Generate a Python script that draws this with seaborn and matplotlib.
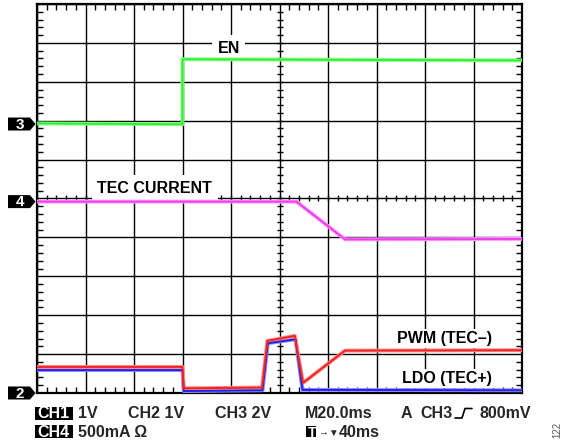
import numpy as np
import matplotlib
matplotlib.use('Agg')
import matplotlib.pyplot as plt
import matplotlib.transforms as mtransforms
from matplotlib.patches import Polygon, Rectangle
from matplotlib.lines import Line2D
import seaborn as sns


# Scope capture: time in ms (M20.0ms -> 20 ms/div), level in screen divisions
en_t = [0, 60, 60, 200]
en_v = [6.93, 6.91, 8.58, 8.55]

tec_t = [0, 107, 127, 200]
tec_v = [4.92, 4.92, 3.95, 3.96]

pwm_t = [0, 60, 60.5, 92.8, 95, 106.3, 109.7, 127, 200]
pwm_v = [0.67, 0.67, 0.12, 0.14, 1.34, 1.47, 0.26, 1.09, 1.10]

ldo_t = [0, 60, 60.5, 93, 95.2, 106.6, 109.5, 200]
ldo_v = [0.59, 0.59, 0.05, 0.07, 1.28, 1.38, 0.08, 0.07]

marker_names = ['3', '4', '2']
marker_levels = [6.915, 4.92, 0.0]

label_names = ['EN', 'TEC CURRENT', 'PWM (TEC–)', 'LDO (TEC+)']
label_t = [79, 48.5, 168, 169]
label_v = [8.75, 5.14, 1.29, 0.25]

W, H = 561, 446
FONT = ['Liberation Sans', 'DejaVu Sans']

sns.set_theme(style='white')
plt.rcParams['font.family'] = FONT

fig = plt.figure(figsize=(W / 100, H / 100), dpi=100)
ax = fig.add_axes([37 / W, 53 / H, 485 / W, 389 / H])
ax.set_xlim(0, 200)
ax.set_ylim(0, 10)

# Graticule: 10 x 10 divisions, 5 minor ticks per division
ax.set_xticks(np.arange(0, 201, 20))
ax.set_yticks(np.arange(0, 11, 1))
ax.set_xticks(np.arange(0, 201, 4), minor=True)
ax.set_yticks(np.arange(0, 10.01, 0.2), minor=True)
ax.grid(True, which='major', color='black', lw=1.0)
ax.tick_params(which='major', length=0, labelbottom=False, labelleft=False)
ax.tick_params(which='minor', direction='in', length=4.5, width=1.0,
               color='black', top=True, right=True, bottom=True, left=True)
for s in ax.spines.values():
    s.set_color('black')
    s.set_linewidth(1.6)
ax.set_axisbelow(True)

# center-line ticks
cx = np.arange(4, 200, 4)
ax.plot(cx, np.full(len(cx), 5.0), ls='none', marker='|', ms=5, mew=1.0,
        color='black', zorder=1.5)
cy = np.arange(0.2, 10, 0.2)
ax.plot(np.full(len(cy), 100.0), cy, ls='none', marker='_', ms=5, mew=1.0,
        color='black', zorder=1.5)

# Traces (light halo + core)
traces = [
    (en_t, en_v, '#8cff8c', '#33ee33'),
    (tec_t, tec_v, '#ff9cff', '#f03cf0'),
    (ldo_t, ldo_v, '#8c8cff', '#2424e0'),
    (pwm_t, pwm_v, '#ff8c8c', '#f02424'),
]
for t, v, light, core in traces:
    sns.lineplot(x=t, y=v, estimator=None, sort=False, color=light,
                 lw=2.8, ax=ax, zorder=4)
    sns.lineplot(x=t, y=v, estimator=None, sort=False, color=core,
                 lw=1.4, ax=ax, zorder=4.1)

for name, t, v in zip(label_names, label_t, label_v):
    pad = 4 if name in ('EN', 'TEC CURRENT') else 1.5
    ax.text(t, v, name, ha='center', va='baseline', fontsize=11.5,
            fontweight='bold', color='black', zorder=3,
            bbox=dict(facecolor='white', edgecolor='none', pad=pad))

# Channel markers on the left edge
for name, lvl in zip(marker_names, marker_levels):
    tr = fig.dpi_scale_trans + mtransforms.ScaledTranslation(
        0, lvl, ax.get_yaxis_transform())
    verts = np.array([(-29, -6.5), (-7, -6.5), (-1.5, 0), (-7, 6.5),
                      (-29, 6.5)]) / 100
    ax.add_patch(Polygon(verts, closed=True, transform=tr, facecolor='black',
                         edgecolor='none', clip_on=False, zorder=6))
    ax.text(-0.175, -0.005, name, transform=tr, ha='center', va='center',
            color='white', fontsize=11, fontweight='bold', clip_on=False,
            zorder=7)


# Readout text under the screen
def ftext(px, py, s, size=11.5, **kw):
    fig.text(px / W, 1 - py / H, s, ha='left', va='baseline', fontsize=size,
             fontweight='bold', **kw)


def fbox(x0, y0, x1, y1):
    fig.add_artist(Rectangle((x0 / W, 1 - y1 / H), (x1 - x0) / W,
                             (y1 - y0) / H, transform=fig.transFigure,
                             facecolor='black', edgecolor='none'))


row1, row2 = 418.5, 437
fbox(35, 406.5, 73, 419.5)
ftext(37, row1, 'CH1', color='white')
ftext(78, row1, '1V')
ftext(128, row1, 'CH2 1V')
ftext(215, row1, 'CH3 2V')
ftext(305, row1, 'M20.0ms')
ftext(401, row1, 'A')
ftext(420, row1, 'CH3')
ftext(480, row1, '800mV')
fig.add_artist(Line2D(np.array([455, 462, 465, 472]) / W,
                      1 - np.array([418, 418, 408.5, 408.5]) / H,
                      transform=fig.transFigure, color='black', lw=1.2))

fbox(35, 424.5, 73, 437.5)
ftext(37, row2, 'CH4', color='white')
ftext(78, row2, '500mA Ω')
fbox(306, 426, 316, 437)
ftext(307.5, row2, 'T', size=10, color='white')
ftext(318, row2 - 1.5, '→', size=7)
ftext(328, row2 - 1, '▼', size=7)
ftext(339, row2, '40ms')

fig.text(557 / W, 1 - 430 / H, '122', rotation=90, fontsize=7,
         color='#555555', ha='center', va='center')

fig.savefig('out.png', dpi=100)
plt.close('all')
